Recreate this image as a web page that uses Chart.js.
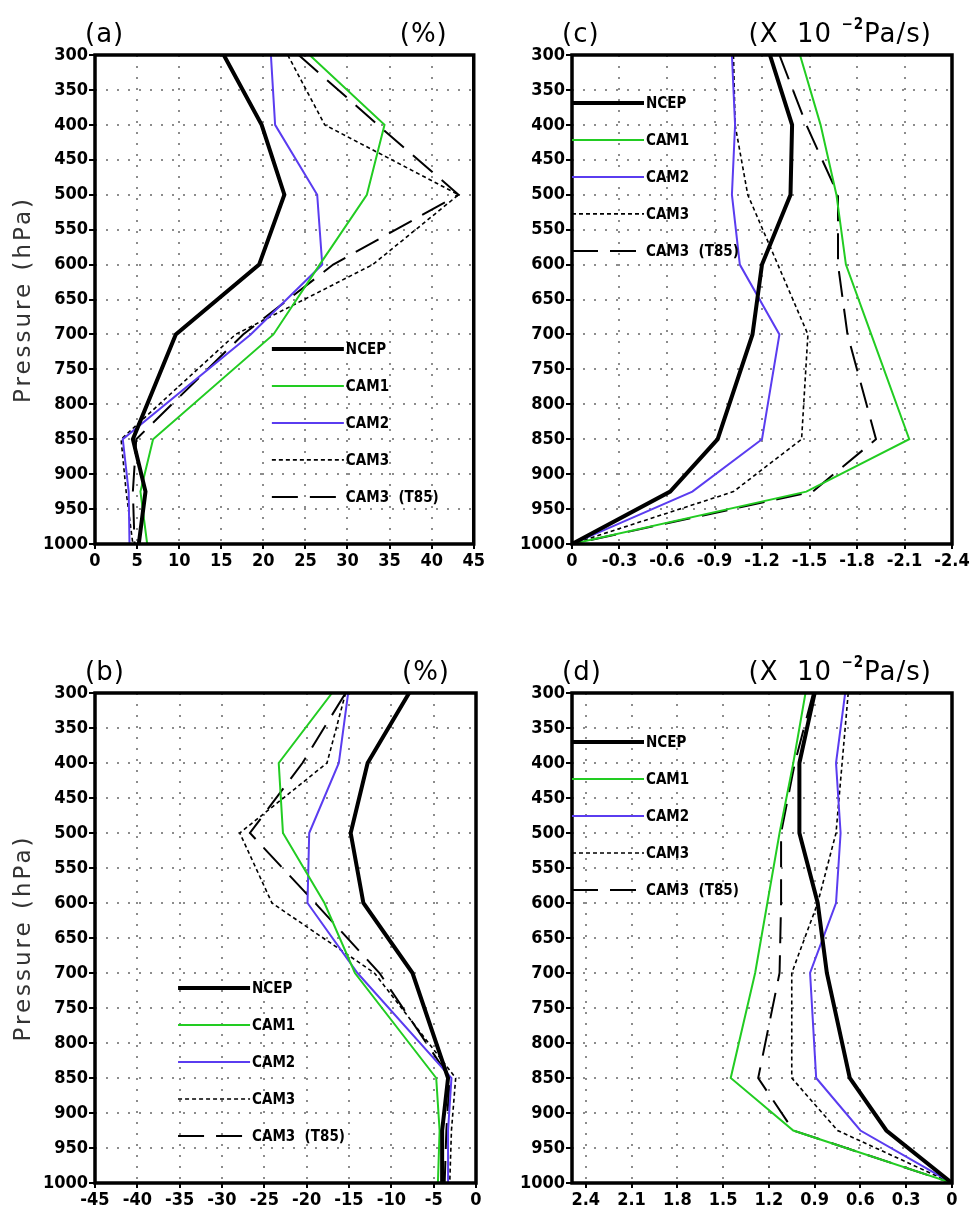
<!DOCTYPE html>
<html>
<head>
<meta charset="utf-8">
<script src="https://cdn.jsdelivr.net/npm/chart.js@4.4.0/dist/chart.umd.min.js"></script>
<style>
  body { margin: 0; background: #fff; }
  #wrap { position: relative; width: 975px; height: 1210px; }
  canvas { position: absolute; }
</style>
</head>
<body>
<div id="wrap">
  <canvas id="chartA" width="487" height="600" style="left:0px;top:0px"></canvas>
  <canvas id="chartC" width="488" height="600" style="left:487px;top:0px"></canvas>
  <canvas id="chartB" width="487" height="572" style="left:0px;top:638px"></canvas>
  <canvas id="chartD" width="488" height="572" style="left:487px;top:638px"></canvas>
</div>
<script>
// pressure levels (hPa)
const levels = [300, 400, 500, 600, 700, 850, 925, 1000];
const yTicks = [300, 350, 400, 450, 500, 550, 600, 650, 700, 750, 800, 850, 900, 950, 1000];

const seriesNames = ['NCEP', 'CAM1', 'CAM2', 'CAM3', 'CAM3  (T85)'];

// (a) %
const aNcep = [15.3, 19.8, 22.5, 19.5, 9.6, 4.5, 6.0, 5.2];
const aCam1 = [25.5, 34.4, 32.3, 26.7, 21.2, 6.9, 5.4, 6.2];
const aCam2 = [20.9, 21.4, 26.4, 27.0, 18.5, 3.3, 4.0, 4.1];
const aCam3 = [22.9, 27.3, 43.2, 33.0, 16.7, 3.1, 3.7, 4.5];
const aT85  = [24.2, 33.6, 43.2, 28.3, 17.6, 4.9, 4.5, 4.7];
const aTicks = [0, 5, 10, 15, 20, 25, 30, 35, 40, 45];

// (b) %
const bNcep = [-7.9, -12.8, -14.8, -13.3, -7.5, -3.3, -4.0, -4.0];
const bCam1 = [-17.0, -23.3, -22.8, -17.9, -14.3, -4.7, -4.3, -4.5];
const bCam2 = [-15.1, -16.2, -19.7, -19.9, -14.0, -2.9, -3.3, -3.3];
const bCam3 = [-15.4, -17.6, -27.9, -24.1, -12.0, -2.4, -2.9, -3.1];
const bT85  = [-15.4, -20.5, -26.7, -19.0, -11.4, -3.1, -3.5, -3.7];
const bTicks = [-45, -40, -35, -30, -25, -20, -15, -10, -5, 0];

// (c) x 10^-2 Pa/s
const cNcep = [-1.25, -1.39, -1.38, -1.20, -1.14, -0.92, -0.62, 0];
const cCam1 = [-1.44, -1.57, -1.67, -1.73, -1.89, -2.13, -1.48, 0];
const cCam2 = [-1.01, -1.03, -1.01, -1.06, -1.31, -1.20, -0.76, 0];
const cCam3 = [-1.02, -1.03, -1.11, -1.30, -1.49, -1.45, -1.02, 0];
const cT85  = [-1.31, -1.48, -1.68, -1.68, -1.74, -1.92, -1.52, 0];
const cTicks = [0, -0.3, -0.6, -0.9, -1.2, -1.5, -1.8, -2.1, -2.4];

// (d) x 10^-2 Pa/s
const dNcep = [0.90, 1.00, 1.00, 0.88, 0.82, 0.67, 0.43, 0];
const dCam1 = [0.96, 1.04, 1.13, 1.21, 1.29, 1.45, 1.04, 0];
const dCam2 = [0.70, 0.76, 0.73, 0.76, 0.93, 0.89, 0.60, 0];
const dCam3 = [0.68, 0.72, 0.76, 0.88, 1.05, 1.05, 0.75, 0];
const dT85  = [0.91, 1.03, 1.12, 1.12, 1.13, 1.27, 1.04, 0];
const dTicks = [2.4, 2.1, 1.8, 1.5, 1.2, 0.9, 0.6, 0.3, 0];

// line styles per series
const seriesColors = ['#000000', '#22cc22', '#5a3cf0', '#000000', '#000000'];
const seriesWidths = [4, 2, 2, 1.6, 2];
const seriesDash = [[], [], [], [4, 3], [26, 12]];

const FONT = "'DejaVu Sans Condensed', 'Liberation Sans Narrow', sans-serif";
const THIN = "'DejaVu Sans', 'Liberation Sans', sans-serif";

// frame, panel letter, units, y title and legend drawn on top of the plot
const panelDecor = {
  id: 'panelDecor',
  afterDraw(chart, args, opts) {
    const ctx = chart.ctx;
    const a = chart.chartArea;
    ctx.save();

    ctx.lineWidth = 3.5;
    ctx.strokeStyle = '#000';
    ctx.strokeRect(a.left, a.top, a.right - a.left, a.bottom - a.top);

    // title letter and units
    ctx.fillStyle = '#000';
    ctx.textBaseline = 'alphabetic';
    ctx.font = "26px " + THIN;
    ctx.textAlign = 'left';
    ctx.letterSpacing = '1px';
    ctx.fillText(opts.letter, a.left - 10, a.top - 13);

    const parts = opts.units;
    let total = 0;
    parts.forEach(p => {
      ctx.font = p.sup ? "bold 15px " + FONT : "26px " + THIN;
      p.w = ctx.measureText(p.t).width;
      total += p.w;
    });
    let x = a.right - opts.unitsRight - total;
    parts.forEach(p => {
      ctx.font = p.sup ? "bold 15px " + FONT : "26px " + THIN;
      ctx.fillText(p.t, x, a.top - 13 - (p.sup ? 13 : 0));
      x += p.w;
    });

    // y axis title
    if (opts.yTitle) {
      ctx.save();
      ctx.translate(24, (a.top + a.bottom) / 2);
      ctx.rotate(-Math.PI / 2);
      ctx.font = "23px " + THIN;
      ctx.letterSpacing = '3px';
      ctx.fillStyle = '#333';
      ctx.textAlign = 'center';
      ctx.textBaseline = 'middle';
      ctx.fillText(opts.yTitle, 0, 0);
      ctx.restore();
    }
    ctx.letterSpacing = '0px';

    // legend
    const lx = a.left + opts.legendX * (a.right - a.left);
    let ly = a.top + opts.legendY * (a.bottom - a.top);
    ctx.font = "bold 15px " + FONT;
    ctx.textBaseline = 'middle';
    chart.data.datasets.forEach(ds => {
      ctx.beginPath();
      ctx.setLineDash(ds.borderDash);
      ctx.lineWidth = ds.borderWidth;
      ctx.strokeStyle = ds.borderColor;
      ctx.moveTo(lx, ly);
      ctx.lineTo(lx + 72, ly);
      ctx.stroke();
      ctx.setLineDash([]);
      ctx.fillStyle = '#000';
      ctx.fillText(ds.label, lx + 74, ly + 1);
      ly += 37;
    });
    ctx.restore();
  }
};

function makePanel(canvasId, series, xTicks, xMin, xMax, reverse, opt) {
  const datasets = seriesNames.map((name, i) => ({
    label: name,
    data: levels.map((p, k) => ({ x: series[i][k], y: p })),
    borderColor: seriesColors[i],
    borderWidth: seriesWidths[i],
    borderDash: seriesDash[i],
    pointRadius: 0,
    tension: 0,
    fill: false
  }));

  const ctx = document.getElementById(canvasId).getContext('2d');
  return new Chart(ctx, {
    type: 'line',
    data: { datasets },
    options: {
      responsive: false,
      animation: false,
      events: [],
      layout: { padding: { top: 55, right: opt.padRight, left: 0, bottom: 0 } },
      scales: {
        x: {
          type: 'linear',
          min: xMin,
          max: xMax,
          reverse: reverse,
          afterFit: s => { s.height = opt.xHeight; },
          afterBuildTicks: s => { s.ticks = xTicks.map(v => ({ value: v })); },
          ticks: {
            autoSkip: false,
            maxRotation: 0,
            padding: 2,
            color: '#000',
            font: { family: FONT, size: 18, weight: 'bold' },
            callback: v => (v === 0 ? '0' : (Number.isInteger(v) ? String(v) : v.toFixed(1)))
          },
          grid: { color: '#8c8c8c', lineWidth: 2, tickLength: 5, tickColor: '#000', tickWidth: 2 },
          border: { display: false, dash: [2, 9] }
        },
        y: {
          type: 'linear',
          min: 300,
          max: 1000,
          reverse: true,
          afterFit: s => { s.width = opt.yWidth; },
          afterBuildTicks: s => { s.ticks = yTicks.map(v => ({ value: v })); },
          ticks: {
            autoSkip: false,
            padding: 1,
            color: '#000',
            font: { family: FONT, size: 18, weight: 'bold' },
            callback: v => String(v)
          },
          grid: { color: '#8c8c8c', lineWidth: 2, tickLength: 6, tickColor: '#000', tickWidth: 2 },
          border: { display: false, dash: [2, 9] }
        }
      },
      plugins: {
        legend: { display: false },
        tooltip: { enabled: false },
        panelDecor: opt.decor
      }
    },
    plugins: [panelDecor]
  });
}

const pctUnits = [{ t: '(%)' }];
const omegaUnits = [{ t: '(X  10 ' }, { t: '\u2212' + '2', sup: true }, { t: 'Pa/s)' }];

makePanel('chartA', [aNcep, aCam1, aCam2, aCam3, aT85], aTicks, 0, 45, false, {
  padRight: 11, xHeight: 56, yWidth: 95,
  decor: { letter: '(a)', units: pctUnits, unitsRight: 26, legendX: 0.467, legendY: 0.601, yTitle: 'Pressure (hPa)' }
});
makePanel('chartC', [cNcep, cCam1, cCam2, cCam3, cT85], cTicks, -2.4, 0, true, {
  padRight: 23, xHeight: 56, yWidth: 85,
  decor: { letter: '(c)', units: omegaUnits, unitsRight: 20, legendX: 0, legendY: 0.098, yTitle: '' }
});
makePanel('chartB', [bNcep, bCam1, bCam2, bCam3, bT85], bTicks, -45, 0, false, {
  padRight: 11, xHeight: 27, yWidth: 95,
  decor: { letter: '(b)', units: pctUnits, unitsRight: 26, legendX: 0.218, legendY: 0.602, yTitle: 'Pressure (hPa)' }
});
makePanel('chartD', [dNcep, dCam1, dCam2, dCam3, dT85], dTicks, 0, 2.49, true, {
  padRight: 23, xHeight: 27, yWidth: 85,
  decor: { letter: '(d)', units: omegaUnits, unitsRight: 20, legendX: 0, legendY: 0.1, yTitle: '' }
});
</script>
</body>
</html>
